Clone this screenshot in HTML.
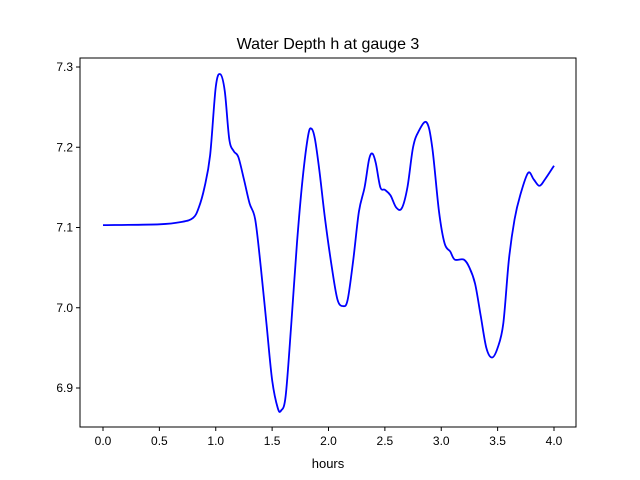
<!DOCTYPE html>
<html><head><meta charset="utf-8"><style>
body{margin:0;background:#fff;}
svg{display:block;font-family:"Liberation Sans","DejaVu Sans",sans-serif;}
</style></head><body>
<svg id="chart" width="640" height="480">
<text x="328" y="49" font-size="16" text-anchor="middle">Water Depth h at gauge 3</text>
<g id="plot"></g>
<text x="328" y="468" font-size="13" text-anchor="middle">hours</text>
</svg>
<script>
const hours=[0,0.5,0.7,0.8,0.85,0.9,0.95,1.0,1.04,1.08,1.12,1.16,1.2,1.25,1.3,1.35,1.4,1.45,1.5,1.55,1.58,1.62,1.67,1.72,1.77,1.82,1.85,1.88,1.92,1.97,2.03,2.08,2.13,2.17,2.22,2.27,2.32,2.36,2.39,2.42,2.46,2.5,2.55,2.6,2.65,2.7,2.75,2.8,2.87,2.92,2.98,3.03,3.08,3.12,3.2,3.25,3.3,3.35,3.4,3.45,3.5,3.55,3.6,3.65,3.7,3.77,3.82,3.87,3.92,4.0];
const depth=[7.103,7.104,7.107,7.112,7.125,7.15,7.19,7.275,7.291,7.27,7.21,7.195,7.188,7.16,7.13,7.11,7.05,6.98,6.91,6.875,6.872,6.89,6.98,7.08,7.16,7.215,7.223,7.21,7.17,7.11,7.05,7.01,7.002,7.01,7.06,7.12,7.15,7.185,7.192,7.18,7.15,7.147,7.14,7.125,7.124,7.15,7.2,7.22,7.231,7.2,7.12,7.08,7.07,7.06,7.06,7.05,7.03,6.99,6.95,6.938,6.95,6.98,7.06,7.11,7.14,7.168,7.16,7.152,7.16,7.177];
const xTicks=[0,0.5,1,1.5,2,2.5,3,3.5,4];
const xTickLabels=["0.0","0.5","1.0","1.5","2.0","2.5","3.0","3.5","4.0"];
const yTicks=[6.9,7.0,7.1,7.2,7.3];
const yTickLabels=["6.9","7.0","7.1","7.2","7.3"];
const L=80,R=576,T=58,B=427;
const xs=v=>103+(v-0)*(554-103)/4;
const ys=v=>388-(v-6.9)*(388-67)/0.4;
const NS="http://www.w3.org/2000/svg";
const g=document.getElementById('plot');
function mk(t,a){const e=document.createElementNS(NS,t);for(const k in a)e.setAttribute(k,a[k]);g.appendChild(e);return e;}
const frame=mk('rect',{x:L,y:T,width:R-L,height:B-T,fill:'none',stroke:'#000','stroke-width':1});


xTicks.forEach((v,i)=>{const x=xs(v);
 const t=mk('line',{x1:x,x2:x,y1:B,y2:B+4,stroke:'#000'});
 
 
 const l=mk('text',{x:x,y:B+18,'font-size':12,'text-anchor':'middle'});l.textContent=xTickLabels[i];
 
 });
yTicks.forEach((v,i)=>{const y=ys(v);
 const t=mk('line',{x1:L-4,x2:L,y1:y,y2:y,stroke:'#000'});
 
 
 const l=mk('text',{x:L-7,y:y+4,'font-size':12,'text-anchor':'end'});l.textContent=yTickLabels[i];
 
 });
const P=hours.map((h,i)=>[xs(h),ys(depth[i])]);
let d='M'+P[0][0]+','+P[0][1];
for(let i=0;i<P.length-1;i++){const p0=P[Math.max(0,i-1)],p1=P[i],p2=P[i+1],p3=P[Math.min(P.length-1,i+2)];
 d+=' C'+(p1[0]+(p2[0]-p0[0])/6)+','+(p1[1]+(p2[1]-p0[1])/6)+' '+(p2[0]-(p3[0]-p1[0])/6)+','+(p2[1]-(p3[1]-p1[1])/6)+' '+p2[0]+','+p2[1];}
const line=mk('path',{d:d,fill:'none',stroke:'#0000ff','stroke-width':1.8});


</script>
</body></html>
